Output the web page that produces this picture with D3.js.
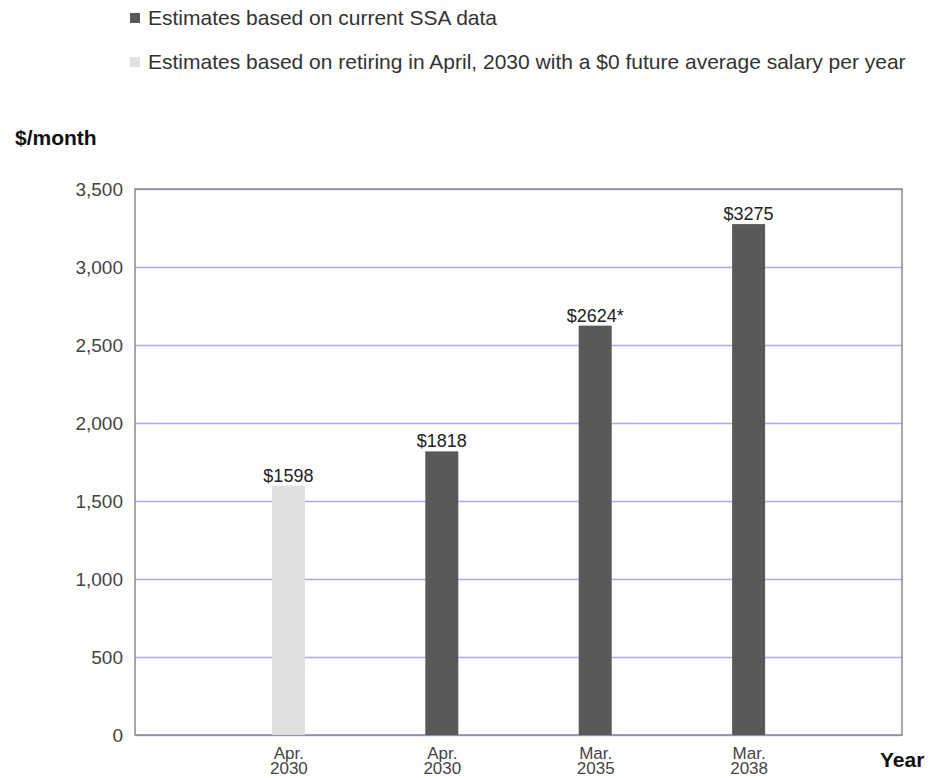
<!DOCTYPE html>
<html>
<head>
<meta charset="utf-8">
<script src="https://cdn.jsdelivr.net/npm/d3@7"></script>
<style>
  body { margin: 0; background: #fff; font-family: "Liberation Sans", Arial, sans-serif; }
</style>
</head>
<body>
<div id="chart"></div>
<script>
const categories = [["Apr.", "2030"], ["Apr.", "2030"], ["Mar.", "2035"], ["Mar.", "2038"]];
const values = [1598, 1818, 2624, 3275];
const valueLabels = ["$1598", "$1818", "$2624*", "$3275"];
const seriesIndex = [1, 0, 0, 0];
const seriesNames = [
  "Estimates based on current SSA data",
  "Estimates based on retiring in April, 2030 with a $0 future average salary per year"
];
const seriesColors = ["#595959", "#e0e0e0"];
const yTicks = [0, 500, 1000, 1500, 2000, 2500, 3000, 3500];

const svg = d3.select("#chart").append("svg")
    .attr("width", 937)
    .attr("height", 778);

const margin = { top: 189, right: 35, bottom: 43, left: 135 };
const width = 937 - margin.left - margin.right;
const height = 778 - margin.top - margin.bottom;

const g = svg.append("g").attr("transform", `translate(${margin.left},${margin.top})`);

// legend
const legend = svg.append("g");
seriesNames.forEach((name, i) => {
    const row = legend.append("g").attr("transform", `translate(130,${13 + i * 44})`);
    row.append("rect").attr("width", 10).attr("height", 10).attr("fill", seriesColors[i]);
    row.append("text")
        .attr("x", 18).attr("y", 12)
        .attr("font-size", 21)
        .attr("fill", "#333")
        .text(name);
});

const x = d3.scalePoint()
    .domain(d3.range(values.length))
    .range([0, width])
    .padding(1);

const y = d3.scaleLinear()
    .domain([0, 3500])
    .range([height, 0]);

// gridlines + y axis
const yAxis = g.append("g")
    .call(d3.axisLeft(y).tickValues(yTicks).tickSize(-width).tickFormat(d3.format(",")));
yAxis.select(".domain").remove();
yAxis.selectAll(".tick line").style("stroke", "#aaaae6").attr("stroke-width", 1.3);
yAxis.selectAll(".tick text")
    .attr("x", -12)
    .attr("font-size", 19)
    .attr("font-family", "Liberation Sans, Arial, sans-serif")
    .attr("fill", "#444");

// frame
g.append("rect")
    .attr("width", width).attr("height", height)
    .attr("fill", "none")
    .attr("stroke", "#8a8a8a")
    .attr("stroke-width", 1.5);

// bars
const barW = 33;
g.selectAll(".bar")
    .data(values)
    .enter().append("rect")
    .attr("class", "bar")
    .attr("x", (d, i) => x(i) - barW / 2)
    .attr("y", d => y(d))
    .attr("width", barW)
    .attr("height", d => height - y(d))
    .attr("fill", (d, i) => seriesColors[seriesIndex[i]]);

g.selectAll(".vlabel")
    .data(values)
    .enter().append("text")
    .attr("class", "vlabel")
    .attr("x", (d, i) => x(i))
    .attr("y", d => y(d) - 4)
    .attr("text-anchor", "middle")
    .attr("font-size", 18)
    .attr("fill", "#222")
    .text((d, i) => valueLabels[i]);

// x axis labels, two lines each
const xAxis = g.append("g")
    .attr("transform", `translate(0,${height})`)
    .call(d3.axisBottom(x).tickSize(0).tickFormat(() => ""));
xAxis.select(".domain").remove();
xAxis.selectAll(".tick text").each(function(d) {
    const t = d3.select(this)
        .attr("font-size", 17)
        .attr("font-family", "Liberation Sans, Arial, sans-serif")
        .attr("fill", "#444")
        .attr("y", 0).attr("dy", null);
    t.append("tspan").attr("x", 0).attr("y", 24).text(categories[d][0]);
    t.append("tspan").attr("x", 0).attr("y", 39).text(categories[d][1]);
});

// axis titles
svg.append("text")
    .attr("x", 15).attr("y", 145)
    .attr("font-size", 21).attr("font-weight", "bold")
    .attr("fill", "#111")
    .text("$/month");

svg.append("text")
    .attr("x", 880).attr("y", 767)
    .attr("font-size", 21).attr("font-weight", "bold")
    .attr("fill", "#111")
    .text("Year");
</script>
</body>
</html>
